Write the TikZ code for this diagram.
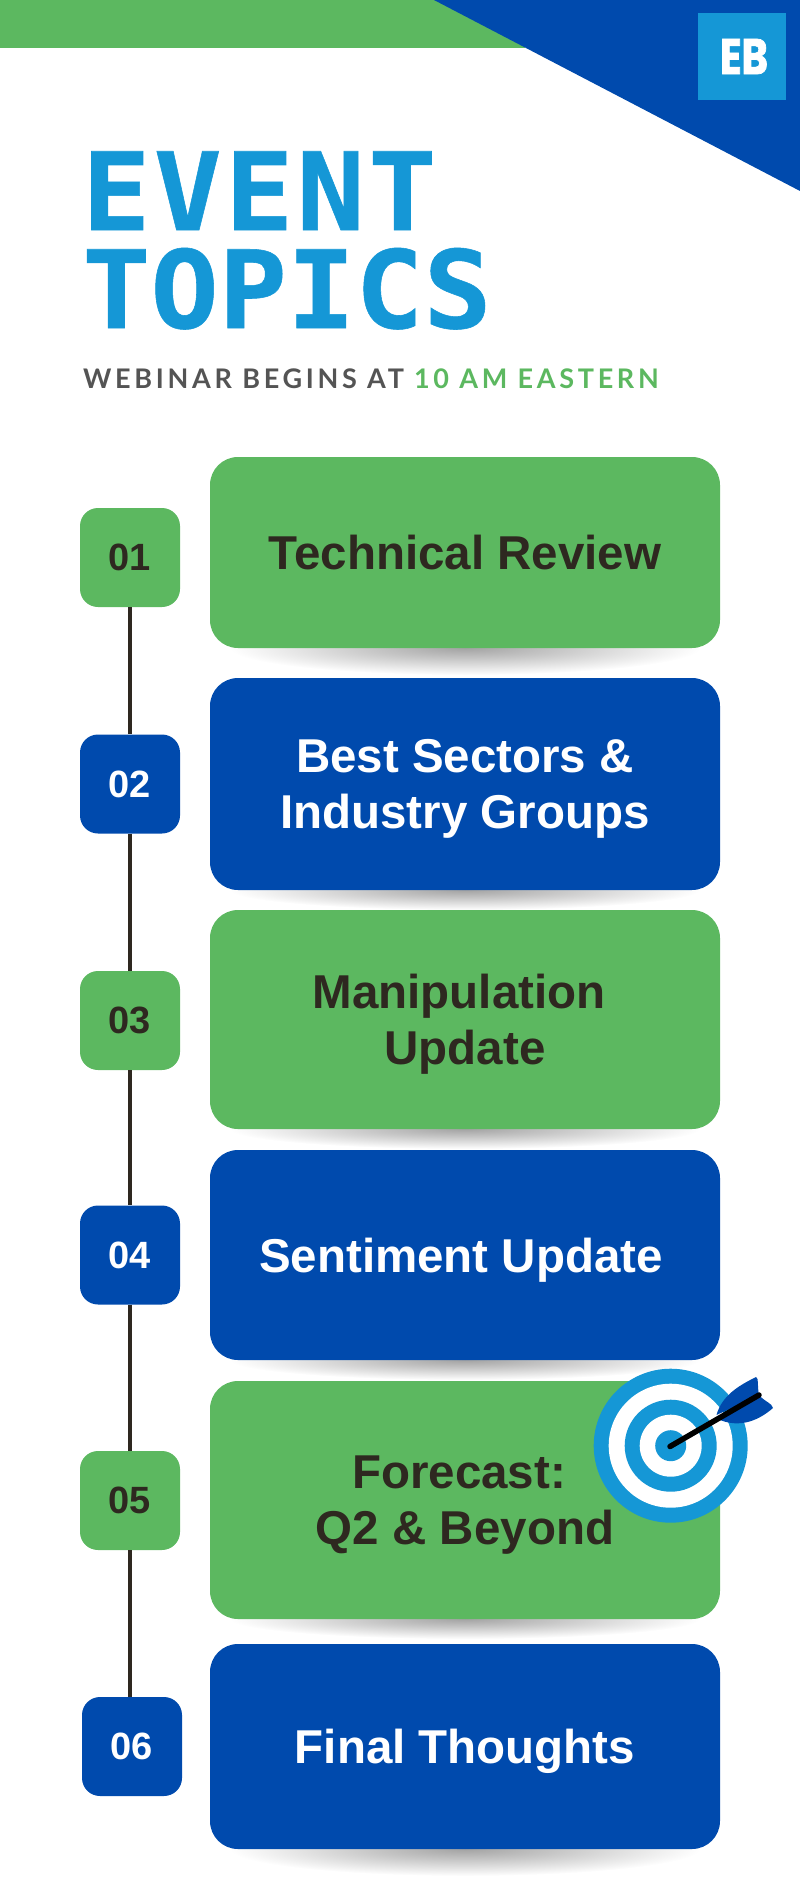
\documentclass[tikz,border=0pt]{standalone}
\usepackage{fontspec}
\setmainfont{Liberation Sans}
\newfontfamily\titlefont[FakeStretch=1.05,FakeBold=0.5]{DejaVu Sans Mono}
\newfontfamily\subfont[LetterSpace=13.7]{Lato}
\newfontfamily\logofont[FakeStretch=0.8,FakeBold=1.5]{Poppins}
\definecolor{eb_green}{RGB}{92, 184, 96}
\definecolor{eb_blue}{RGB}{0, 74, 173}
\definecolor{eb_sky}{RGB}{21, 151, 214}
\definecolor{eb_dark}{RGB}{46, 40, 32}
\definecolor{eb_gray}{RGB}{84, 84, 84}
\pgfdeclareradialshading{fadeout}{\pgfpoint{0bp}{0bp}}{color(0bp)=(black!36);color(10bp)=(black!22);color(25bp)=(white);color(50bp)=(white)}
\tikzstyle{topicg}=[rectangle,rounded corners=28pt,fill=eb_green,text=eb_dark,text depth=0pt,
  font=\fontsize{47.5}{56}\selectfont\bfseries,align=center,inner sep=0pt,minimum width=510pt]
\tikzstyle{topicb}=[rectangle,rounded corners=28pt,fill=eb_blue,text=white,text depth=0pt,
  font=\fontsize{47.5}{56}\selectfont\bfseries,align=center,inner sep=0pt,minimum width=510pt]
\tikzstyle{numg}=[rectangle,rounded corners=18pt,fill=eb_green,text=eb_dark,
  font=\fontsize{38}{38}\selectfont\bfseries,inner sep=0pt,minimum width=100pt,minimum height=99pt]
\tikzstyle{numb}=[rectangle,rounded corners=18pt,fill=eb_blue,text=white,
  font=\fontsize{38}{38}\selectfont\bfseries,inner sep=0pt,minimum width=100pt,minimum height=99pt]
\tikzstyle{rail}=[draw=eb_dark,line width=4pt]
\tikzstyle{drop}=[shading=fadeout]
\begin{document}
\begin{tikzpicture}[x=1pt,y=-1pt]
    \useasboundingbox (0,0) rectangle (800,1898);
    % corner
    \fill[eb_green] (0,0) rectangle (525,48);
    \fill[eb_blue] (434,0) -- (800,0) -- (800,191) -- cycle;
    \node [fill=eb_sky,minimum width=88pt,minimum height=87pt,inner sep=0pt,text=white,
      font=\logofont\fontsize{50}{50}\selectfont\bfseries] (logo) at (742,56.5) {\hspace*{4pt}EB};
    % heading
    \node [anchor=base west,inner sep=0pt,align=left,text=eb_sky,
      font=\titlefont\fontsize{108}{98}\selectfont\bfseries] (title) at (82,328)
      {{\addfontfeature{LetterSpace=3}EVENT}\\TOPICS};
    \node [anchor=base west,inner sep=0pt,text=eb_gray,
      font=\subfont\fontsize{27}{27}\selectfont\bfseries] (when) at (83,388)
      {WEBINAR BEGINS AT \textcolor{eb_green}{10 AM EASTERN}};
    % shadows under the boxes
    \shade[drop] (465,648) ellipse (235 and 27);
    \shade[drop] (465,890) ellipse (235 and 20);
    \shade[drop] (465,1129) ellipse (235 and 20);
    \shade[drop] (465,1360) ellipse (235 and 20);
    \shade[drop] (465,1619) ellipse (235 and 20);
    \shade[drop] (465,1849) ellipse (235 and 27);
    % topics
    \node [style=topicg,minimum height=191pt] (review) at (465,552.5) {Technical Review};
    \node [style=topicb,minimum height=212pt] (sectors) at (465,784) {Best Sectors \&\\Industry Groups};
    \node [style=topicg,minimum height=219pt] (manip) at (465,1019.5) {Manipulation\hspace*{12pt}\\Update};
    \node [style=topicb,minimum height=210pt] (senti) at (465,1255) {Sentiment Update\hspace*{8pt}};
    \node [style=topicg,minimum height=238pt] (forecast) at (465,1500) {Forecast:\hspace*{12pt}\\Q2 \& Beyond};
    \node [style=topicb,minimum height=205pt] (final) at (465,1746.5) {Final Thoughts};
    % numbers
    \node [style=numg] (n01) at (130,557.5) {01};
    \node [style=numb] (n02) at (130,784) {02};
    \node [style=numg] (n03) at (130,1020.5) {03};
    \node [style=numb] (n04) at (130,1255) {04};
    \node [style=numg] (n05) at (130,1500.5) {05};
    \node [style=numb] (n06) at (132,1746.5) {06};
    \draw [style=rail] (n01) to (n02);
    \draw [style=rail] (n02) to (n03);
    \draw [style=rail] (n03) to (n04);
    \draw [style=rail] (n04) to (n05);
    \draw [style=rail] (n05) to (n05 |- n06.north);
    % target
    \fill[eb_sky] (670.7,1445.7) circle (77);
    \fill[white] (670.7,1445.7) circle (62);
    \fill[eb_sky] (670.7,1445.7) circle (46);
    \fill[white] (670.7,1445.7) circle (31);
    \fill[eb_sky] (670.7,1445.7) circle (15.5);
    % dart
    \fill[eb_blue] (716.5,1415) .. controls (722,1395) and (740,1385) .. (756,1377)
      .. controls (759,1378) and (757,1385) .. (759,1395) -- cycle;
    \fill[eb_blue] (720,1420) .. controls (745,1430) and (765,1415) .. (773,1408)
      .. controls (772,1403) and (765,1402) .. (759,1395) -- cycle;
    \draw[black,line width=5.5pt,line cap=round] (670,1446.5) -- (759,1395);
  \end{tikzpicture}
\end{document}
